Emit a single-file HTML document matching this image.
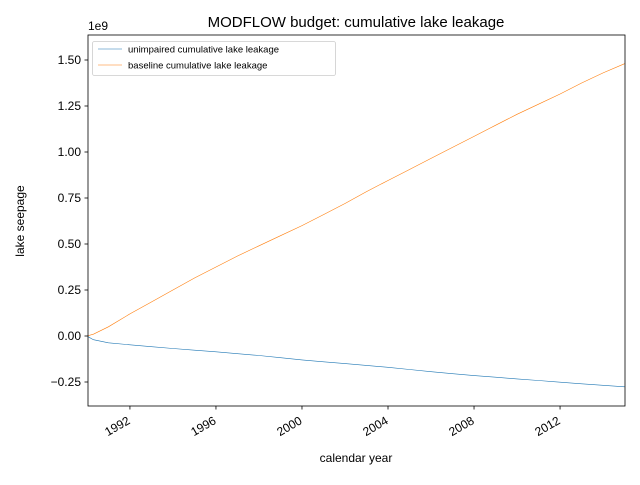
<!DOCTYPE html>
<html><head><meta charset="utf-8"><style>
body{margin:0;background:#fff;font-family:"Liberation Sans","DejaVu Sans",sans-serif}
svg text{font-family:"Liberation Sans","DejaVu Sans",sans-serif}
</style></head><body>
<svg id="c" width="640" height="480" xmlns="http://www.w3.org/2000/svg">
<rect width="640" height="480" fill="#fff"/>
</svg>
<script>
const years=[1990,1990.3,1991,1992,1993,1994,1995,1996,1997,1998,1999,2000,2001,2002,2003,2004,2005,2006,2007,2008,2009,2010,2011,2012,2013,2014,2015];
const unimpaired=[0,-0.02,-0.037,-0.048,-0.058,-0.068,-0.077,-0.086,-0.096,-0.106,-0.118,-0.13,-0.14,-0.15,-0.16,-0.17,-0.182,-0.194,-0.205,-0.215,-0.224,-0.233,-0.242,-0.251,-0.26,-0.268,-0.276];
const baseline=[0,0.01,0.05,0.12,0.185,0.25,0.315,0.375,0.435,0.49,0.545,0.6,0.66,0.72,0.785,0.845,0.905,0.965,1.025,1.085,1.145,1.205,1.26,1.315,1.375,1.43,1.48];
const yTicks=[-0.25,0,0.25,0.5,0.75,1.0,1.25,1.5];
const yTickLabels=["−0.25","0.00","0.25","0.50","0.75","1.00","1.25","1.50"];
const xTicks=[1992,1996,2000,2004,2008,2012];
const L=88,R=625,T=35,B=406;
const X=v=>L+(v-1990.05)/(2015.02-1990.05)*(R-L);
const Y=v=>336-v*184;
const svg=document.getElementById('c');
const NS='http://www.w3.org/2000/svg';
function mk(t,a,p){const e=document.createElementNS(NS,t);for(const k in a)e.setAttribute(k,a[k]);(p||svg).appendChild(e);return e;}
const cp=mk('clipPath',{id:'cl'});mk('rect',{x:L,y:T,width:R-L,height:B-T},cp);
function line(arr,col,name){
 const d=arr.map((v,i)=>(i?'L':'M')+X(years[i]).toFixed(1)+','+Y(v).toFixed(1)).join(' ');
 const p=mk('path',{d:d,fill:'none',stroke:col,'stroke-width':0.6,'clip-path':'url(#cl)'});
 
 
}
line(unimpaired,'#1f77b4','unimpaired-line');
line(baseline,'#ff7f0e','baseline-line');
const fr=mk('rect',{x:L,y:T,width:R-L,height:B-T,fill:'none',stroke:'#000','stroke-width':0.8});


yTicks.forEach((v,i)=>{const y=Y(v);mk('line',{x1:L-3.5,x2:L,y1:y,y2:y,stroke:'#000','stroke-width':0.8});
 const t=mk('text',{x:L-7,y:y+4,'text-anchor':'end','font-size':12});t.textContent=yTickLabels[i];
 
 });
xTicks.forEach(v=>{const x=X(v);mk('line',{x1:x,x2:x,y1:B,y2:B+3.5,stroke:'#000','stroke-width':0.8});
 const ax=x+1,ay=B+17;
 const t=mk('text',{x:ax,y:ay,'text-anchor':'end','font-size':12,transform:`rotate(-30 ${ax} ${ay})`});t.textContent=v;
 
 });
</script>
<svg style="position:absolute;left:0;top:0" width="640" height="480">
<text x="356" y="27" text-anchor="middle" font-size="15">MODFLOW budget: cumulative lake leakage</text>
<text x="88" y="30" font-size="12">1e9</text>
<text x="356" y="462" text-anchor="middle" font-size="12">calendar year</text>
<text x="24" y="221" text-anchor="middle" font-size="12" transform="rotate(-90 24 221)">lake  seepage</text>
<g>
<rect x="92.5" y="41.5" width="243" height="34" rx="2" fill="#fff" stroke="#ccc" stroke-width="0.8"/>
<line x1="98" x2="122" y1="49" y2="49" stroke="#1f77b4" stroke-width="0.6"/>
<text x="128" y="52.5" font-size="9.5">unimpaired cumulative lake leakage</text>
<line x1="98" x2="122" y1="65" y2="65" stroke="#ff7f0e" stroke-width="0.6"/>
<text x="128" y="68.5" font-size="9.5">baseline cumulative lake leakage</text>
</g>
</svg>
</body></html>
